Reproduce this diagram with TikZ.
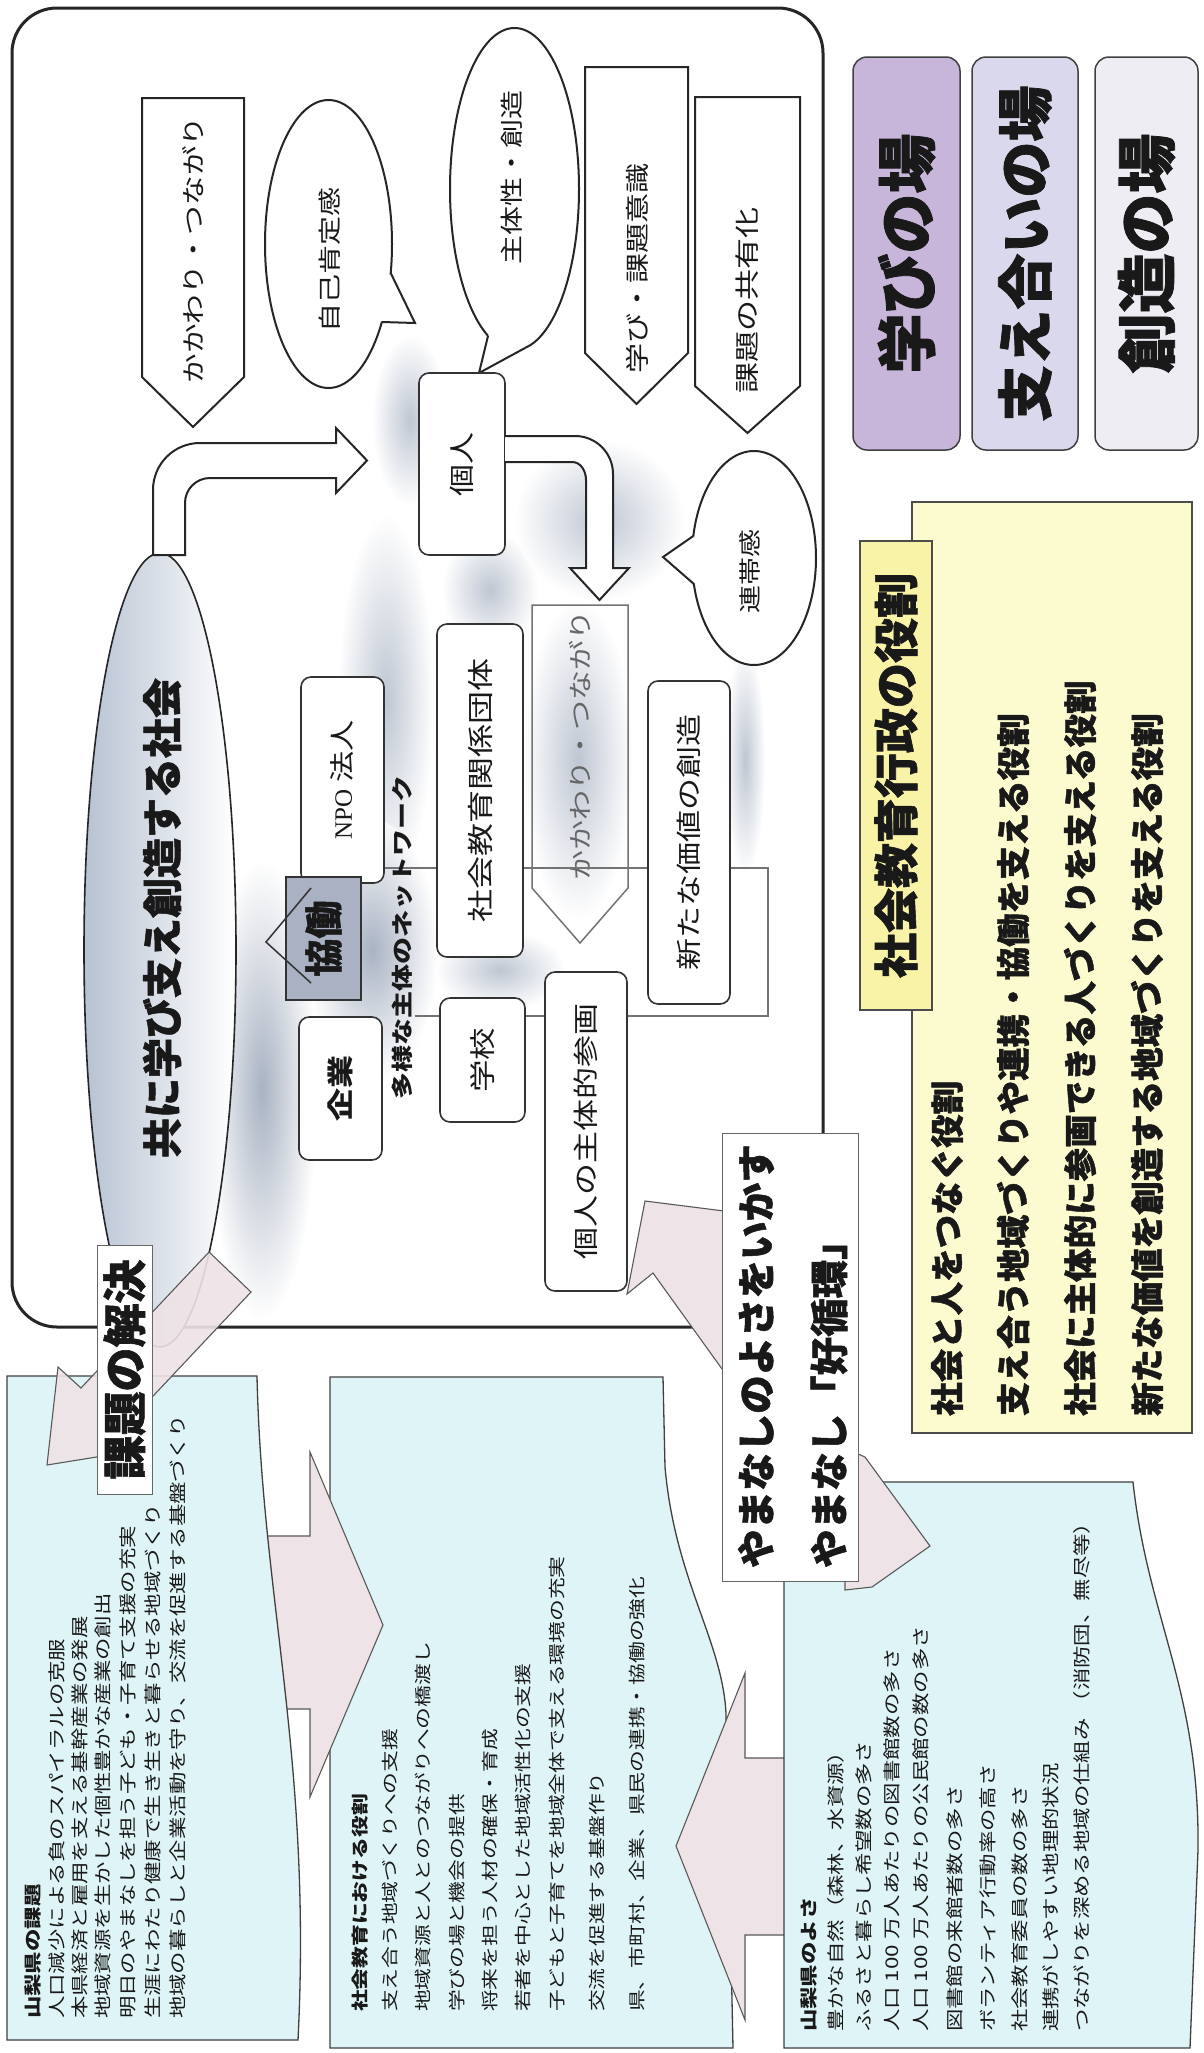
\documentclass[tikz,border=0pt]{standalone}
\usepackage{fontspec}
\setmainfont{Noto Sans CJK JP}
\newfontfamily\jpA{Noto Sans CJK JP}
\newfontfamily\jpH{Noto Sans CJK JP}[BoldFeatures={FakeBold=1.3}]
\newfontfamily\jpB{Noto Sans CJK JP}[FakeStretch=1.25]
\newfontfamily\jpC{Noto Sans CJK JP}[FakeStretch=1.28]
\newfontfamily\lser{Liberation Serif}
\newcommand\jsz[1]{\fontsize{#1}{#1}\selectfont}
\usetikzlibrary{calc}
\definecolor{cyanbox}{HTML}{DFF4F6}
\definecolor{pinkarr}{HTML}{EEE3E6}
\definecolor{purA}{HTML}{C7B5DA}
\definecolor{purB}{HTML}{DAD8EC}
\definecolor{purC}{HTML}{EDEDF3}
\definecolor{yelA}{HTML}{FCFBCF}
\definecolor{yelB}{HTML}{F8F3A6}
\definecolor{swirl}{HTML}{9DA9BC}
\definecolor{swirlD}{HTML}{8593AA}
\definecolor{ellL}{HTML}{B7C2D2}
\definecolor{kyodoF}{HTML}{A9B1C2}
\tikzset{
  ln/.style={rotate=90, anchor=west, inner sep=0pt, text=black!90},
  tx/.style={rotate=90, inner sep=0pt, text=black!90},
  rb/.style={rotate=90, draw=black!80, line width=1.6pt, rounded corners=10pt, fill=white, inner sep=0pt, text=black!90},
  pent/.style={draw=black!85, line width=2pt, fill=white, line join=miter},
  bub/.style={draw=black!85, line width=2pt, fill=white},
  bubedge/.style={draw=black!85, line width=2pt, line join=miter},
  net/.style={draw=black!55, line width=1.3pt},
  parr/.style={fill=pinkarr, draw=black!65, line width=1.1pt, line join=miter},
  cbox/.style={fill=cyanbox, draw=black!75, line width=1.3pt},
  sw/.style={inner color=swirl, outer color=white, opacity=0.65},
  swd/.style={inner color=swirlD, outer color=white, opacity=0.7},
  bigbox/.style={rotate=90, draw=black!75, line width=1.5pt, rounded corners=14pt, inner sep=0pt, text=black!90},
}
\begin{document}
\begin{tikzpicture}[x=1pt,y=-1pt]
\useasboundingbox (0,0) rectangle (1204,2053);
\fill[white] (0,0) rectangle (1204,2053);

% ---------- big frame ----------
\draw[line width=3pt,draw=black!85,fill=white,rounded corners=45pt] (12,8) rectangle (823,1327);

% ---------- swirl ----------
\shade[swd] (262,1090) ellipse [x radius=55, y radius=230];
\shade[sw] (386,700) ellipse [x radius=48, y radius=185];
\shade[swd] (372,950) ellipse [x radius=66, y radius=130];
\shade[sw] (490,590) ellipse [x radius=48, y radius=60];
\shade[sw] (600,520) ellipse [x radius=85, y radius=80];
\shade[sw] (410,420) ellipse [x radius=38, y radius=85];
\shade[sw] (500,970) ellipse [x radius=65, y radius=40];
\shade[sw] (745,760) ellipse [x radius=20, y radius=115];
\shade[sw] (578,760) ellipse [x radius=55, y radius=160];

% ---------- society ellipse ----------
\shadedraw[left color=ellL, right color=white, draw=black!85, line width=1.6pt] (160,950) ellipse [x radius=76, y radius=397];
\node[tx] (society) at (162,918) {\jpH\bfseries\jsz{40}共に学び支え創造する社会};

% bent arrow from society to individual
\draw[pent] (153,555) -- (153,490) to[out=90,in=180] (200,443) -- (336,443) -- (336,428) -- (367,460.5) -- (336,493) -- (336,478) -- (210,478) to[out=180,in=90] (185,503) -- (185,555) -- cycle;

% ---------- top pentagons and bubbles ----------
\draw[pent] (142,98) -- (244,98) -- (244,377) -- (193,427) -- (142,377) -- cycle;
\node[tx] (kakawari1) at (193,250) {\jpB\jsz{23.7}かかわり・つながり};

\draw[bub] (328.5,244) ellipse [x radius=63.5, y radius=144];
\fill[white] (390.7,273) -- (415,323) -- (381.9,322) -- (370,300) -- cycle;
\draw[bubedge] (390.7,273) -- (415,323) -- (381.9,322);
\node[tx] (jiko) at (330,260) {\jpB\jsz{23.2}自己肯定感};

\draw[bub] (514.5,189) ellipse [x radius=64.5, y radius=161];
\fill[white] (488,336) -- (479,373) -- (525,348) -- (505,320) -- cycle;
\draw[bubedge] (488,336) -- (479,373) -- (525,348);
\node[tx] (shutai) at (512,177) {\jpB\jsz{23.2}主体性・創造};

\draw[pent] (585,67) -- (688,67) -- (688,353) -- (636.5,404) -- (585,353) -- cycle;
\node[tx] (manabi2) at (637,268) {\jpB\jsz{24}学び・課題意識};

\draw[pent] (695,97) -- (800,97) -- (800,386) -- (747.5,433) -- (695,386) -- cycle;
\node[tx] (kyoyu) at (747,300) {\jpB\jsz{24.8}課題の共有化};

% ---------- individual ----------
\node[rb, minimum width=182pt, minimum height=86pt] (kojin) at (462,464) {\jpB\jsz{25.6}個人};
\draw[pent] (505,436) -- (575,436) to[out=0,in=90] (613,474) -- (613,568) -- (629,568) -- (599.5,600) -- (570,568) -- (586,568) -- (586,480) to[out=90,in=0] (572,462) -- (505,462);

% ---------- network ----------
\coordinate (n1) at (0,868);
\coordinate (n2) at (0,1016);
\coordinate (ncorner1) at (768,868);
\coordinate (ncorner2) at (768,1016);
\coordinate (netend) at (415,1016);

\draw[draw=black!55, line width=1.5pt] (532,605) -- (628,605) -- (628,888) -- (580,943) -- (532,888) -- cycle;
\node[tx, text=black!60] (kakawari2) at (580,745) {\jpB\jsz{24}かかわり・つながり};

\node[rb, minimum width=206pt, minimum height=83pt] (npo) at (342.5,780) {\jpB\jsz{25}{\lser NPO} 法人};
\node[rb, minimum width=333pt, minimum height=86pt] (shakai) at (480,790.5) {\jpB\jsz{26.4}社会教育関係団体};
\node[rb, minimum width=124pt, minimum height=85pt] (gakko) at (482.5,1060) {\jpB\jsz{26}学校};
\node[rb, minimum width=319pt, minimum height=82pt] (sanka) at (586,1131.5) {\jpB\jsz{25.6}個人の主体的参画};
\node[rb, minimum width=143pt, minimum height=83pt] (kigyo) at (340.5,1088.5) {\jpB\bfseries\jsz{26.4}企業};
\node[rb, minimum width=323pt, minimum height=82pt] (shinka) at (689,842.5) {\jpB\jsz{25.6}新たな価値の創造};

\draw[net] (npo.south |- n1) -- (shakai.north |- n1);
\draw[net] (shakai.south |- n1) -- (shinka.north |- n1);
\draw[net] (shinka.south |- n1) -- (ncorner1) -- (ncorner2) -- (sanka.south |- n2);
\draw[net] (sanka.north |- n2) -- (gakko.south |- n2);
\draw[net] (gakko.north |- n2) -- (netend);

\node[rotate=90, draw=black!80, line width=1.5pt, fill=kyodoF, minimum width=123pt, minimum height=75pt, inner sep=0pt, text=black!90] (kyodo) at (323.5,938.5) {\jpH\bfseries\jsz{38}協働};
\draw[line width=1.5pt, draw=black!80, line join=miter] (311,888) -- (266,942) -- (311,983);
\node[tx] (tayo) at (402,937) {\jpB\bfseries\jsz{21.6}多様な主体のネットワーク};

% ---------- solidarity bubble ----------
\draw[bub] (754,558) ellipse [x radius=62, y radius=107];
\fill[white] (693.3,536) -- (663,557) -- (693.9,584) -- (710,560) -- cycle;
\draw[bubedge] (693.3,536) -- (663,557) -- (693.9,584);
\node[tx] (rentai) at (750,571) {\jpB\jsz{22.4}連帯感};

% ---------- bottom boxes ----------
\draw[cbox] (330,1377) -- (663,1377) -- (665,1467) .. controls (675,1580) and (722,1640) .. (726,1713) -- (733,2048) -- (330,2048) -- cycle;
\draw[parr] (240,1536) -- (310,1536) -- (310,1452) -- (383,1625) -- (310,1797) -- (310,1709) -- (240,1709) -- cycle;
\draw[parr] (800,1758) -- (745,1758) -- (745,1673) -- (676,1846) -- (745,2020) -- (745,1935) -- (800,1935) -- cycle;
\draw[cbox] (7,1376) -- (257,1376) .. controls (262,1600) and (312,1760) .. (298,2040) -- (7,2040) -- cycle;
\draw[cbox] (784,1482) -- (1133,1482) .. controls (1148,1620) and (1200,1690) .. (1198,1850) -- (1190,2048) -- (784,2048) -- cycle;

% callout arrow from yamanashi label to individual participation
\draw[parr] (740,1213) -- (645,1201) -- (627,1294) -- (653,1273) -- (735,1387) -- cycle;
\draw[parr] (845,1448) -- (865,1457) -- (930,1546) -- (872,1587) -- (845,1590) -- cycle;

% arrow of problem solving
\draw[parr, fill opacity=0.9] (209,1252) -- (251,1292) -- (123,1428) -- (146,1449) -- (47,1465) -- (58,1367) -- (81,1388) -- cycle;

% labels
\node[rotate=90, draw=black!60, line width=0.9pt, fill=white, minimum width=249pt, minimum height=55pt, inner sep=0pt, text=black!90] (kaiketsu) at (124.5,1369.5) {\jpH\bfseries\jsz{44}課題の解決};
\node[rotate=90, draw=black!60, line width=0.9pt, fill=white, minimum width=448pt, minimum height=136pt, inner sep=0pt] (yamalabel) at (790,1357) {};
\node[ln] (yl1) at (756,1568) {\jpH\bfseries\jsz{38.5}やまなしのよさをいかす};
\node[ln] (yl2) at (829,1568) {\jpH\bfseries\jsz{38.5}やまなし「好循環」};

% ---------- right column ----------
\node[bigbox, fill=purA, minimum width=393pt, minimum height=107pt] (ba1) at (906.5,253.5) {\jpH\bfseries\jsz{60}学びの場};
\node[bigbox, fill=purB, minimum width=393pt, minimum height=106pt] (ba2) at (1025,253.5) {\jpH\bfseries\jsz{56}支え合いの場};
\node[bigbox, fill=purC, minimum width=393pt, minimum height=103pt] (ba3) at (1146.5,253.5) {\jpH\bfseries\jsz{60}創造の場};

\node[rotate=90, draw=black!70, line width=1.2pt, fill=yelA, minimum width=931pt, minimum height=280pt, inner sep=0pt] (yellow) at (1052,967.5) {};
\node[rotate=90, draw=black!70, line width=1.2pt, fill=yelB, minimum width=469pt, minimum height=72pt, inner sep=0pt, text=black!90] (yeltitle) at (896,775.5) {\jpH\bfseries\jsz{45}社会教育行政の役割};
\node[ln] (r1) at (947,1416) {\jpH\bfseries\jsz{33.5}社会と人をつなぐ役割};
\node[ln] (r2) at (1013,1416) {\jpH\bfseries\jsz{33.5}支え合う地域づくりや連携・協働を支える役割};
\node[ln] (r3) at (1080,1416) {\jpH\bfseries\jsz{33.5}社会に主体的に参画できる人づくりを支える役割};
\node[ln] (r4) at (1147,1416) {\jpH\bfseries\jsz{33.5}新たな価値を創造する地域づくりを支える役割};

% ---------- text of the bottom boxes ----------
\node[ln] (a0) at (33,2019) {\jpC\bfseries\jsz{17.5}山梨県の課題};
\node[ln] (a1) at (57,2019) {\jpC\jsz{17.5}人口減少による負のスパイラルの克服};
\node[ln] (a2) at (80,2019) {\jpC\jsz{17.5}本県経済と雇用を支える基幹産業の発展};
\node[ln] (a3) at (103,2019) {\jpC\jsz{17.5}地域資源を生かした個性豊かな産業の創出};
\node[ln] (a4) at (128,2019) {\jpC\jsz{17.5}明日のやまなしを担う子ども・子育て支援の充実};
\node[ln] (a5) at (153,2019) {\jpC\jsz{17.5}生涯にわたり健康で生き生きと暮らせる地域づくり};
\node[ln] (a6) at (178,2019) {\jpC\jsz{17.5}地域の暮らしと企業活動を守り、交流を促進する基盤づくり};

\node[ln] (b0) at (360,2012) {\jpC\bfseries\jsz{17}社会教育における役割};
\node[ln] (b1) at (390,2012) {\jpC\jsz{17}支え合う地域づくりへの支援};
\node[ln] (b2) at (423,2012) {\jpC\jsz{17}地域資源と人とのつながりへの橋渡し};
\node[ln] (b3) at (457,2012) {\jpC\jsz{17}学びの場と機会の提供};
\node[ln] (b4) at (490,2012) {\jpC\jsz{17}将来を担う人材の確保・育成};
\node[ln] (b5) at (523,2012) {\jpC\jsz{17}若者を中心とした地域活性化の支援};
\node[ln] (b6) at (557,2012) {\jpC\jsz{17}子どもと子育てを地域全体で支える環境の充実};
\node[ln] (b7) at (597,2012) {\jpC\jsz{17}交流を促進する基盤作り};
\node[ln] (b8) at (637,2012) {\jpC\jsz{17}県、市町村、企業、県民の連携・協働の強化};

\node[ln] (c0) at (809,2032) {\jpC\bfseries\jsz{17.5}山梨県のよさ};
\node[ln] (c1) at (836,2032) {\jpC\jsz{17.5}豊かな自然（森林、水資源）};
\node[ln] (c2) at (864,2032) {\jpC\jsz{17.5}ふるさと暮らし希望数の多さ};
\node[ln] (c3) at (892,2032) {\jpC\jsz{17.5}人口 100 万人あたりの図書館数の多さ};
\node[ln] (c4) at (921,2032) {\jpC\jsz{17.5}人口 100 万人あたりの公民館の数の多さ};
\node[ln] (c5) at (955,2032) {\jpC\jsz{17.5}図書館の来館者数の多さ};
\node[ln] (c6) at (988,2032) {\jpC\jsz{17.5}ボランティア行動率の高さ};
\node[ln] (c7) at (1020,2032) {\jpC\jsz{17.5}社会教育委員の数の多さ};
\node[ln] (c8) at (1051,2032) {\jpC\jsz{17.5}連携がしやすい地理的状況};
\node[ln] (c9) at (1082,2032) {\jpC\jsz{17.5}つながりを深める地域の仕組み （消防団、無尽等）};
\end{tikzpicture}
\end{document}
